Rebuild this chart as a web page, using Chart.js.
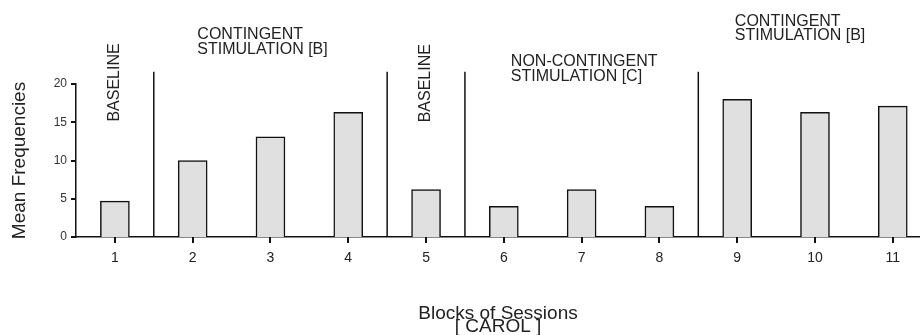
<!DOCTYPE html>
<html>
<head>
<meta charset="utf-8">
<script src="https://cdn.jsdelivr.net/npm/chart.js@4/dist/chart.umd.min.js"></script>
<style>
  html, body { margin: 0; padding: 0; background: #fff; }
  #wrap { width: 920px; height: 335px; }
</style>
</head>
<body>
<div id="wrap"><canvas id="chart"></canvas></div>
<script>
// --- data ---
const blocks = [1, 2, 3, 4, 5, 6, 7, 8, 9, 10, 11];
const meanFreq = [4.7, 10.0, 13.1, 16.3, 6.2, 4.0, 6.2, 4.0, 18.0, 16.3, 17.1];
const yTicks = [0, 5, 10, 15, 20];
// phase change lines sit between blocks
const phaseBreaks = [1.5, 4.5, 5.5, 8.5];
const breakTop = 21.6;
// phase labels: text lines, anchor (block value, frequency value), vertical or not
const phaseLabels = [
    { lines: ["BASELINE"], x: 1, y: 20.2, vertical: true },
    { lines: ["CONTINGENT", "STIMULATION [B]"], x: 2.06, y: 26.4, vertical: false },
    { lines: ["BASELINE"], x: 5, y: 20.1, vertical: true },
    { lines: ["NON-CONTINGENT", "STIMULATION [C]"], x: 6.09, y: 22.9, vertical: false },
    { lines: ["CONTINGENT", "STIMULATION [B]"], x: 8.97, y: 28.2, vertical: false }
];

const FONT = "'Liberation Sans', Arial, sans-serif";
const TEXT = "#222";

// 区切り線は折れ線データセットとして描く
const breakSets = phaseBreaks.map(b => ({
    type: 'line',
    data: [{ x: b, y: 0 }, { x: b, y: breakTop }],
    borderColor: '#111',
    borderWidth: 1.5,
    pointRadius: 0,
    clip: false,
    order: 0
}));

// 目盛りの短い線（軸の外側）
const tickMarkPlugin = {
    id: 'tickMarks',
    afterDraw(chart) {
        const ctx = chart.ctx;
        const xs = chart.scales.x;
        const ys = chart.scales.y;
        const area = chart.chartArea;
        ctx.save();
        ctx.strokeStyle = '#111';
        ctx.lineWidth = 2;
        ctx.beginPath();
        blocks.forEach(v => {
            const px = Math.round(xs.getPixelForValue(v));
            ctx.moveTo(px, area.bottom);
            ctx.lineTo(px, area.bottom + 6);
        });
        yTicks.forEach(v => {
            const py = Math.round(ys.getPixelForValue(v));
            ctx.moveTo(area.left - 5, py);
            ctx.lineTo(area.left, py);
        });
        ctx.stroke();
        ctx.restore();
    }
};

const phaseLabelPlugin = {
    id: 'phaseLabels',
    afterDraw(chart) {
        const ctx = chart.ctx;
        const xs = chart.scales.x;
        const ys = chart.scales.y;
        ctx.save();
        ctx.fillStyle = TEXT;
        ctx.font = "16px " + FONT;
        phaseLabels.forEach(lab => {
            const px = xs.getPixelForValue(lab.x);
            const py = ys.getPixelForValue(lab.y);
            if (lab.vertical) {
                ctx.save();
                ctx.translate(px, py);
                ctx.rotate(-Math.PI / 2);
                ctx.textAlign = 'center';
                ctx.textBaseline = 'middle';
                ctx.fillText(lab.lines[0], 0, 0);
                ctx.restore();
            } else {
                ctx.textAlign = 'left';
                ctx.textBaseline = 'middle';
                lab.lines.forEach((t, i) => ctx.fillText(t, px, py + i * 14.5));
            }
        });
        ctx.restore();
    }
};

new Chart(document.getElementById('chart'), {
    type: 'bar',
    data: {
        datasets: [{
            type: 'bar',
            data: blocks.map((b, i) => ({ x: b, y: meanFreq[i] })),
            backgroundColor: '#e0e0e0',
            borderColor: '#111',
            borderWidth: 1.5,
            borderSkipped: 'bottom',
            barThickness: 29,
            order: 1
        }, ...breakSets]
    },
    options: {
        responsive: true,
        maintainAspectRatio: false,
        animation: false,
        layout: { padding: { top: 84, left: 0, right: 0, bottom: 0 } },
        plugins: {
            legend: { display: false },
            tooltip: { enabled: false }
        },
        scales: {
            x: {
                type: 'linear',
                min: 0.5,
                max: 11.35,
                offset: false,
                afterBuildTicks: s => { s.ticks = blocks.map(v => ({ value: v })); },
                afterFit: s => { s.height = 98; },
                ticks: {
                    autoSkip: false,
                    maxRotation: 0,
                    padding: 8,
                    color: TEXT,
                    font: { family: FONT, size: 14 }
                },
                grid: { display: false, drawTicks: true, tickLength: 5 },
                border: { display: true, color: '#111', width: 1.5 },
                title: {
                    display: true,
                    text: ["Blocks of Sessions", "[ CAROL ]"],
                    color: TEXT,
                    font: { family: FONT, size: 19, lineHeight: 0.68 },
                    padding: { top: 0, bottom: 1.5 }
                }
            },
            y: {
                min: 0,
                max: 20,
                afterBuildTicks: s => { s.ticks = yTicks.map(v => ({ value: v })); },
                afterFit: s => { s.width = 76; },
                ticks: {
                    padding: 4,
                    color: '#333',
                    font: { family: FONT, size: 12 }
                },
                grid: { display: false, drawTicks: true, tickLength: 5 },
                border: { display: true, color: '#111', width: 1.5 },
                title: {
                    display: true,
                    text: "Mean Frequencies",
                    color: TEXT,
                    font: { family: FONT, size: 19 },
                    padding: { top: 8, bottom: 0 }
                }
            }
        }
    },
    plugins: [tickMarkPlugin, phaseLabelPlugin]
});
</script>
</body>
</html>
